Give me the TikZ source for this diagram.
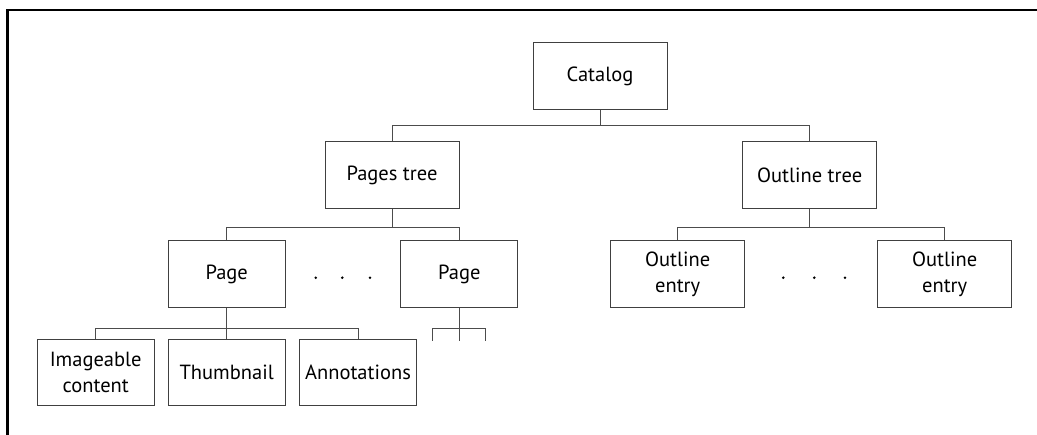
\documentclass[tikz,border=0pt]{standalone}
\usepackage{fontspec}
\setmainfont{PT Sans}
\usetikzlibrary{calc}
\begin{document}
\begin{tikzpicture}[x=1pt,y=-1pt,
  box/.style={draw=black!75,line width=0.9pt,rectangle,minimum height=66.5pt,
    align=center,inner sep=0pt,font=\fontsize{20.5}{26}\selectfont},
  wide/.style={box,minimum width=134pt},
  narrow/.style={box,minimum width=117pt},
  link/.style={draw=black!70,line width=0.9pt},
  dot/.style={circle,fill=black,inner sep=0pt,minimum size=2.8pt}]
\useasboundingbox (0,0) rectangle (1037,435);
% open frame: top and left rules
\draw[line width=2.4pt] (1037,10) -- (7.5,10) -- (7.5,435);

% nodes
\node[wide]   (cat) at (600,76)    {Catalog};
\node[wide]   (pt)  at (392,175)   {Pages tree};
\node[wide]   (ot)  at (809.7,175) {Outline tree};
\node[narrow] (p1)  at (226.7,274) {Page};
\node[narrow] (p2)  at (459.3,274) {Page};
\node[wide]   (oe1) at (677.7,274) {Outline\\entry};
\node[wide]   (oe2) at (944.7,274) {Outline\\entry};
\node[narrow] (ic)  at (95.7,372.7) {Imageable\\content};
\node[narrow] (th)  at (226.7,372.7) {Thumbnail};
\node[narrow] (an)  at (358,372.7)  {Annotations};

% ellipses between siblings
\foreach \x/\n in {315.7/a,342.3/b,370/c} \node[dot] (pd\n) at (\x,277.7) {};
\foreach \x/\n in {783.3/a,814.3/b,845/c} \node[dot] (od\n) at (\x,277.7) {};

% tree connectors
\coordinate (b0) at ($(cat.south)+(0,16)$);
\draw[link] (cat.south) -- (b0);
\draw[link] (pt.north) |- (b0) -| (ot.north);

\coordinate (b1) at ($(pt.south)+(0,19)$);
\draw[link] (pt.south) -- (b1);
\draw[link] (p1.north) |- (b1) -| (p2.north);

\coordinate (b2) at ($(ot.south)+(0,19)$);
\draw[link] (ot.south) -- (b2);
\draw[link] (oe1.north) |- (b2) -| (oe2.north);

\coordinate (b3) at ($(p1.south)+(0,20.5)$);
\draw[link] (p1.south) -- (th.north);
\draw[link] (ic.north) |- (b3) -| (an.north);

% children of the second page, left open
\coordinate (s0) at ($(p2.south)+(0,20.5)$);
\coordinate (sl) at ($(s0)+(-27,0)$);
\coordinate (sr) at ($(s0)+(26.4,0)$);
\coordinate (el) at ($(sl)+(0,12.5)$);
\coordinate (em) at ($(s0)+(0,12.5)$);
\coordinate (er) at ($(sr)+(0,12.5)$);
\draw[link] (p2.south) -- (em);
\draw[link] (el) -- (sl) -- (sr) -- (er);
\end{tikzpicture}
\end{document}
